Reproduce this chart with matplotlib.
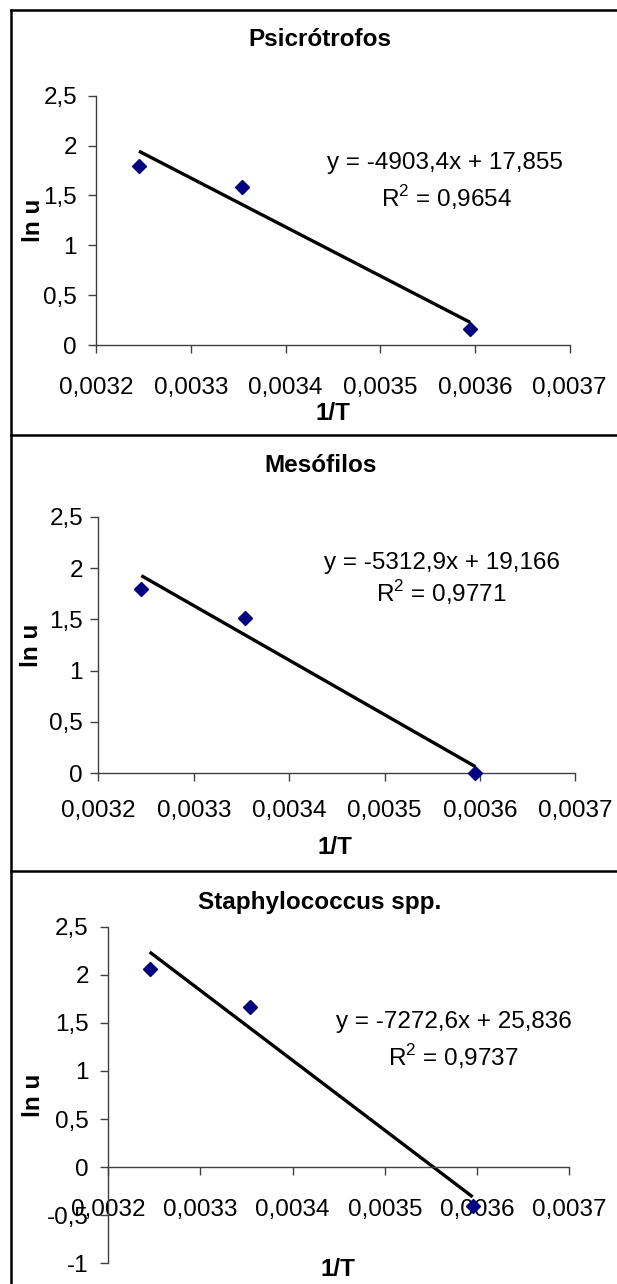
import matplotlib
matplotlib.use('Agg')
import matplotlib.pyplot as plt
from matplotlib.lines import Line2D
from matplotlib.ticker import FixedLocator, FuncFormatter

plt.rcParams['font.family'] = ['Liberation Sans', 'DejaVu Sans']
plt.rcParams['mathtext.fontset'] = 'custom'
plt.rcParams['mathtext.rm'] = 'Liberation Sans'

# ---------------- data ----------------
inv_T = [0.003245, 0.003354, 0.003595]
psicro_lnu = [1.80, 1.58, 0.16]
meso_lnu = [1.80, 1.51, 0.00]
staph_lnu = [2.06, 1.67, -0.40]

titles = ['Psicrótrofos', 'Mesófilos', 'Staphylococcus spp.']
slopes = [-4903.4, -5312.9, -7272.6]
intercepts = [17.855, 19.166, 25.836]
eq_labels = ['y = -4903,4x + 17,855', 'y = -5312,9x + 19,166', 'y = -7272,6x + 25,836']
r2_labels = ['0,9654', '0,9771', '0,9737']
x_ticks = [0.0032, 0.0033, 0.0034, 0.0035, 0.0036, 0.0037]
y_ticks_std = [0, 0.5, 1, 1.5, 2, 2.5]
y_ticks_staph = [-1, -0.5, 0, 0.5, 1, 1.5, 2, 2.5]
series = [psicro_lnu, meso_lnu, staph_lnu]

# ---------------- layout (pixels) ----------------
W, H = 617, 1284
fig = plt.figure(figsize=(W / 100, H / 100), dpi=100)


def fx(px):
    return px / W


def fy(py):
    return 1 - py / H


# axes boxes: left, right, top, bottom in pixels
boxes = [(96.4, 569.5, 95.7, 345.0),
         (98.4, 575.4, 516.7, 773.3),
         (108.2, 569.5, 926.7, 1263.3)]
ylims = [(0, 2.5), (0, 2.5), (-1, 2.5)]
yticks = [y_ticks_std, y_ticks_std, y_ticks_staph]
xpads = [17, 13, 17]
ypads = [8, 5, 8]
title_pos = [(320, 40), (321, 465), (320, 902)]
xlab_pos = [(333, 414), (335, 848), (338, 1270)]
ylab_pos = [(33.5, 220), (31.5, 645), (33.5, 1095)]
eq_pos = [(444.5, 163), (442, 563), (453.7, 1022)]
r2_pos = [(446, 198), (441, 593), (452.8, 1057)]

FS = 17.5
axis_col = '#404040'

for i in range(3):
    l, r, t, b = boxes[i]
    ax = fig.add_axes([fx(l), fy(b), (r - l) / W, (b - t) / H])
    ax.set_xlim(0.0032, 0.0037)
    ax.set_ylim(*ylims[i])
    for s in ['top', 'right']:
        ax.spines[s].set_visible(False)
    for s in ['left', 'bottom']:
        ax.spines[s].set_color(axis_col)
        ax.spines[s].set_linewidth(1.0)
    if ylims[i][0] < 0:
        ax.spines['bottom'].set_position(('data', 0))
    ax.xaxis.set_major_locator(FixedLocator(x_ticks))
    ax.yaxis.set_major_locator(FixedLocator(yticks[i]))
    ax.xaxis.set_major_formatter(FuncFormatter(lambda v, _: f'{v:.4f}'.replace('.', ',')))
    ax.yaxis.set_major_formatter(FuncFormatter(lambda v, _: ('%g' % v).replace('.', ',')))
    ax.tick_params(axis='x', direction='out', length=6, width=1.0, color=axis_col,
                   labelsize=FS, pad=xpads[i])
    ax.tick_params(axis='y', direction='out', length=6, width=1.0, color=axis_col,
                   labelsize=FS, pad=ypads[i])
    ax.patch.set_alpha(0)

    # trend line from stated equation
    xs = [min(inv_T), max(inv_T)]
    ys = [slopes[i] * x + intercepts[i] for x in xs]
    ax.plot(xs, ys, color='black', lw=2.4, solid_capstyle='butt', zorder=2)
    ax.plot(inv_T, series[i], linestyle='none', marker='D', markersize=6.8,
            color='#000080', zorder=3, clip_on=False)

    fig.text(fx(title_pos[i][0]), fy(title_pos[i][1]), titles[i], ha='center', va='center',
             fontsize=FS, fontweight='bold')
    fig.text(fx(xlab_pos[i][0]), fy(xlab_pos[i][1]), '1/T', ha='center', va='center',
             fontsize=FS, fontweight='bold')
    fig.text(fx(ylab_pos[i][0]), fy(ylab_pos[i][1]), 'ln u', ha='center', va='center',
             fontsize=FS, fontweight='bold', rotation=90)
    fig.text(fx(eq_pos[i][0]), fy(eq_pos[i][1]), eq_labels[i], ha='center', va='center',
             fontsize=FS)
    fig.text(fx(r2_pos[i][0]), fy(r2_pos[i][1]), r'R$^{2}$ = ' + r2_labels[i],
             ha='center', va='center', fontsize=FS)

# panel borders
blw = 1.8
fig.add_artist(Line2D([fx(11), fx(W + 5)], [fy(10), fy(10)], color='black', lw=blw))
fig.add_artist(Line2D([fx(11), fx(11)], [fy(10), fy(H + 5)], color='black', lw=blw))
for yy in (435, 871):
    fig.add_artist(Line2D([fx(11), fx(W + 5)], [fy(yy), fy(yy)], color='black', lw=blw))

fig.savefig('out.png', dpi=100)
